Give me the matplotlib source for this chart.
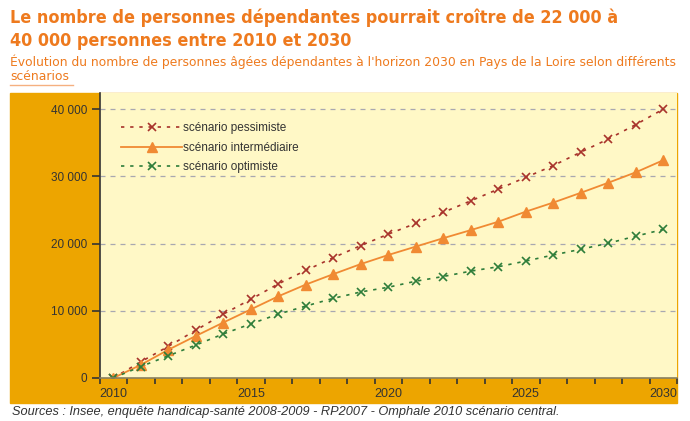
import matplotlib.pyplot as plt
from matplotlib.patches import Rectangle
from matplotlib.lines import Line2D
from matplotlib.ticker import FuncFormatter

years = list(range(2010, 2031))
pessimiste = [0, 2400, 4700, 7100, 9500, 11700, 14000, 16000, 17900, 19700,
              21400, 23000, 24650, 26350, 28100, 29850, 31600, 33600, 35550, 37700, 40000]
intermediaire = [0, 1950, 4200, 6250, 8250, 10200, 12150, 13900, 15450, 16950,
                 18300, 19550, 20800, 22000, 23250, 24750, 26100, 27550, 29050, 30600, 32400]
optimiste = [0, 1700, 3300, 4900, 6550, 8050, 9500, 10700, 11850, 12800,
             13500, 14400, 15100, 15900, 16550, 17400, 18300, 19150, 20050, 21100, 22100]
x_labels = [2010, 2015, 2020, 2025, 2030]

W, H = 690, 421
ORANGE_BOX = '#EDA500'
PLOT_BG = '#FFF8C6'
TITLE_COL = '#EE7A1E'

plt.rcParams['font.family'] = ['Liberation Sans', 'DejaVu Sans']

fig = plt.figure(figsize=(W / 100, H / 100), dpi=100)


def fx(px):
    return px / W


def fy(py):
    return 1 - py / H


# orange frame behind the plot
fig.patches.append(Rectangle((fx(10), fy(403)), fx(677) - fx(10), fy(93) - fy(403),
                             transform=fig.transFigure, color=ORANGE_BOX, zorder=-5))

ax = fig.add_axes([fx(99.5), fy(378), fx(677) - fx(99.5), fy(93) - fy(378)])
ax.set_facecolor(PLOT_BG)

ax.plot(years, pessimiste, color='#A8332B', linestyle=(0, (2, 3.5)), linewidth=1.2,
        marker='x', markersize=5.5, markeredgewidth=1.2, label='scénario pessimiste')
ax.plot(years, intermediaire, color='#F08A33', linestyle='-', linewidth=1.3,
        marker='^', markersize=7, label='scénario intermédiaire')
ax.plot(years, optimiste, color='#2E7D3A', linestyle=(0, (2, 3.5)), linewidth=1.2,
        marker='x', markersize=5.5, markeredgewidth=1.2, label='scénario optimiste')

ax.set_xlim(2009.5, 2030.5)
ax.set_ylim(0, 42400)

ax.set_yticks([0, 10000, 20000, 30000, 40000])
ax.yaxis.set_major_formatter(FuncFormatter(lambda v, p: f"{int(v):,}".replace(',', ' ')))
ax.tick_params(axis='y', direction='out', length=6, width=1.2, color='#333333',
               labelsize=8.5, labelcolor='#333333', pad=3)
ax.grid(axis='y', color='#A8A8B0', linestyle=(0, (4, 4)), linewidth=0.9)

ax.set_xticks(x_labels)
ax.set_xticks([y - 0.5 for y in years] + [2030.5], minor=True)
ax.tick_params(axis='x', which='major', length=0, labelsize=9, labelcolor='#333333', pad=7)
ax.tick_params(axis='x', which='minor', direction='out', length=4, width=1.2, color='#333333')

for s in ['top', 'right']:
    ax.spines[s].set_visible(False)
ax.spines['left'].set_color('#333333')
ax.spines['left'].set_linewidth(1.2)
ax.spines['bottom'].set_color('#8A8060')
ax.spines['bottom'].set_linewidth(1.2)

leg = ax.legend(loc='upper left', bbox_to_anchor=(0.037, 0.897), frameon=False,
                borderaxespad=0, borderpad=0, fontsize=8.5, handlelength=5.2,
                handletextpad=0.1, labelspacing=0.62, labelcolor='#333333')

title_font = ['DejaVu Sans']
fig.text(fx(10), fy(18), "Le nombre de personnes dépendantes pourrait croître de 22 000 à",
         color=TITLE_COL, fontsize=12.9, fontweight='bold', fontstretch='condensed',
         va='center', family=title_font)
fig.text(fx(10), fy(41), "40 000 personnes entre 2010 et 2030",
         color=TITLE_COL, fontsize=12.9, fontweight='bold', fontstretch='condensed',
         va='center', family=title_font)
fig.text(fx(10), fy(62),
         "Évolution du nombre de personnes âgées dépendantes à l'horizon 2030 en Pays de la Loire selon différents",
         color=TITLE_COL, fontsize=8.95, va='center', family='DejaVu Sans')
fig.text(fx(10), fy(76), "scénarios", color=TITLE_COL, fontsize=8.95, va='center',
         family='DejaVu Sans')
fig.lines.append(Line2D([fx(10), fx(73)], [fy(85), fy(85)], transform=fig.transFigure,
                        color='#F5B080', linewidth=1))

fig.text(fx(12), fy(412),
         "Sources : Insee, enquête handicap-santé 2008-2009 - RP2007 - Omphale 2010 scénario central.",
         color='#333333', fontsize=9.2, style='italic', va='center')

fig.savefig('out.png', dpi=100, facecolor='white')
